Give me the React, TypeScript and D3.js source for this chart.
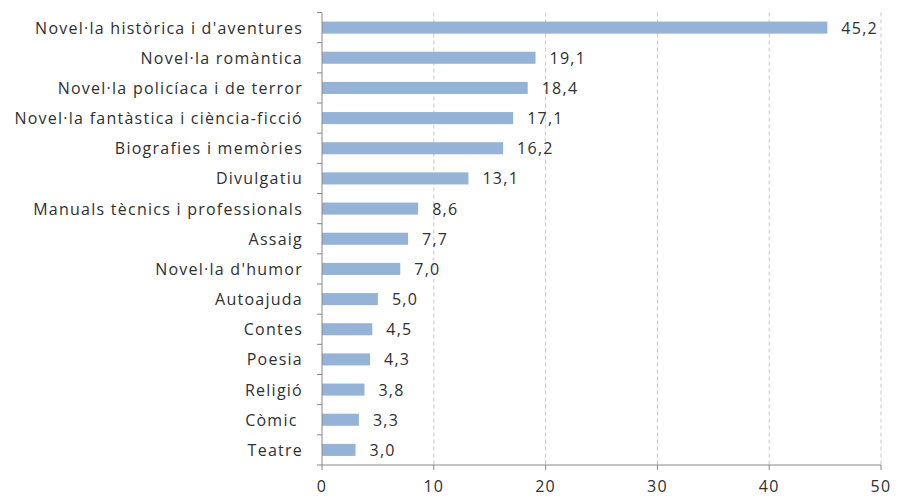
import React from "react";
import * as d3 from "d3";

const categories = [
  "Novel·la històrica i d'aventures",
  "Novel·la romàntica",
  "Novel·la policíaca i de terror",
  "Novel·la fantàstica i ciència-ficció",
  "Biografies i memòries",
  "Divulgatiu",
  "Manuals tècnics i professionals",
  "Assaig",
  "Novel·la d'humor",
  "Autoajuda",
  "Contes",
  "Poesia",
  "Religió",
  "Còmic ",
  "Teatre",
];
const values = [45.2, 19.1, 18.4, 17.1, 16.2, 13.1, 8.6, 7.7, 7.0, 5.0, 4.5, 4.3, 3.8, 3.3, 3.0];
const xTicks = [0, 10, 20, 30, 40, 50];

const W = 902;
const H = 498;
const left = 322;
const right = 881;
const top = 12.5;
const bottom = 465;
const FONT = "'Open Sans', sans-serif";
const FS = 16;
const LS = 1.25;

export default function App() {
  const x = d3.scaleLinear().domain([0, 50]).range([left, right]);
  const y = d3.scaleBand().domain(categories).range([top, bottom]).paddingInner(0.6).paddingOuter(0.3);
  const band = (bottom - top) / categories.length;
  const fmt = (v: number) => v.toFixed(1).replace(".", ",");
  return (
    <svg width={W} height={H} style={{ position: "absolute", left: 0, top: 0, background: "#fff" }}>
      {xTicks.slice(1).map((t) => (
        <line key={"g" + t} x1={x(t)} x2={x(t)} y1={top} y2={bottom} stroke="#c8c8c8" strokeDasharray="4,3" />
      ))}
      {categories.map((c, i) => (
        <rect key={c} x={x(0)} y={y(c)!} width={x(values[i]) - x(0)} height={y.bandwidth()} fill="#95b3d7" />
      ))}
      {categories.map((c, i) => (
        <text key={"v" + c} x={x(values[i]) + 14} y={y(c)! + y.bandwidth() / 2} dy="0.38em" fontFamily={FONT} fontSize={FS} letterSpacing={LS} fill="#303030">
          {fmt(values[i])}
        </text>
      ))}
      {categories.map((c) => (
        <text key={"l" + c} x={303} y={y(c)! + y.bandwidth() / 2} dy="0.38em" textAnchor="end" fontFamily={FONT} fontSize={FS} letterSpacing={LS} fill="#303030" xmlSpace="preserve">
          {c}
        </text>
      ))}
      <line x1={left} x2={left} y1={top} y2={bottom} stroke="#888" />
      {d3.range(categories.length + 1).map((i) => (
        <line key={"yt" + i} x1={left - 5} x2={left} y1={top + i * band} y2={top + i * band} stroke="#888" />
      ))}
      <line x1={left} x2={right} y1={bottom} y2={bottom} stroke="#888" />
      {xTicks.map((t) => (
        <g key={"xt" + t}>
          <line x1={x(t)} x2={x(t)} y1={bottom} y2={bottom + 5} stroke="#888" />
          <text x={x(t)} y={bottom + 27} textAnchor="middle" fontFamily={FONT} fontSize={FS} letterSpacing={LS} fill="#303030">
            {t}
          </text>
        </g>
      ))}
    </svg>
  );
}
